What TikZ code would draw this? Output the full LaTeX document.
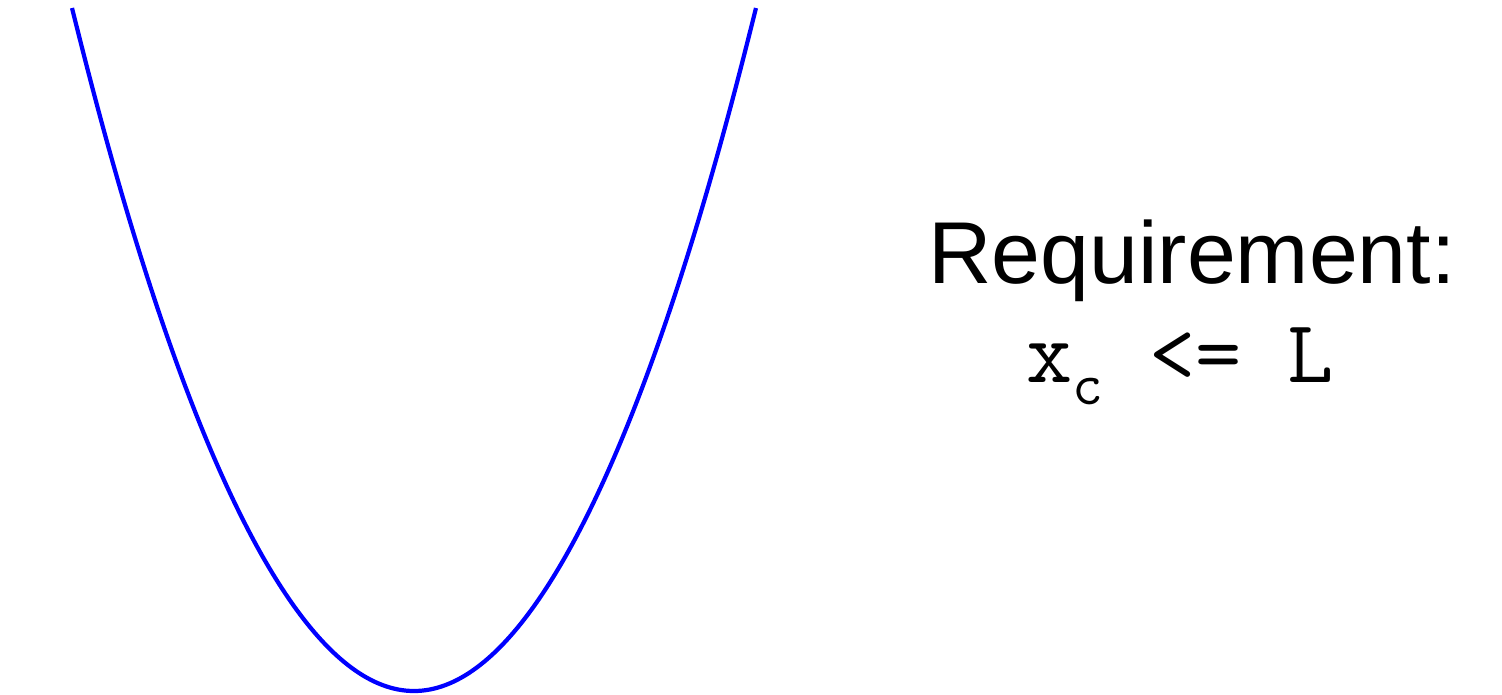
\documentclass[tikz,border=0pt]{standalone}
\usepackage{fontspec}
\setmainfont{Liberation Sans}
\usetikzlibrary{positioning}

\begin{document}
\begin{tikzpicture}[x=0.02cm,y=-0.02cm,
      curve/.style={draw=blue,line width=2.4pt},
      title/.style={anchor=base,inner sep=0pt,font=\fontsize{50}{56}\selectfont},
      condtext/.style={anchor=base,inner sep=0pt}]
    \useasboundingbox (0,0) rectangle (1502,694);
    % the cost curve
    \draw[curve] (72,8) parabola bend (414,691) (756,8);
    % requirement text
    \node[title] (req) at (1192,283) {Requirement:};
    \node[condtext] (cond) at (1180,382)
      {\ttfamily\fontsize{51}{56}\selectfont x\raisebox{-13pt}{\fontsize{34}{34}\selectfont c} <= L};
\end{tikzpicture}
\end{document}
